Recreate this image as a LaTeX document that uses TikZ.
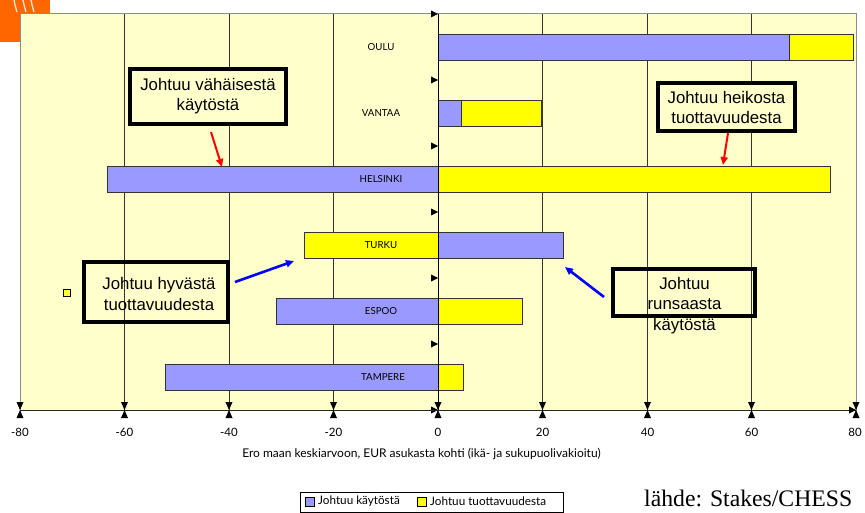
\documentclass[tikz,border=0pt]{standalone}
\usepackage{fontspec}
\setmainfont{Liberation Sans}
\newfontfamily\chartfont{Lato}
\newfontfamily\srcfont{Liberation Serif}
\usetikzlibrary{arrows.meta}
\definecolor{bgyel}{HTML}{FFFFCC}
\definecolor{barblue}{HTML}{9999FF}
\definecolor{baryel}{HTML}{FFFF00}
\definecolor{logoorange}{HTML}{FF6600}
\begin{document}
\begin{tikzpicture}[x=1pt,y=-1pt,
  bar/.style={draw=black!80, line width=0.9pt},
  note/.style={draw=black, line width=3.6pt, inner sep=0pt, align=center,
    font=\fontsize{16.8}{20}\selectfont},
  notetext/.style={inner sep=0pt, align=center, font=\fontsize{16.8}{20.5}\selectfont},
  city/.style={font=\chartfont\fontsize{9.7}{10}\selectfont, inner sep=0pt},
  ticklab/.style={font=\chartfont\fontsize{11.5}{12}\selectfont, inner sep=0pt},
  gridline/.style={draw=black!80, line width=0.8pt},
  redarrow/.style={draw=red, line width=2pt, -{Triangle[length=8pt,width=7pt]}},
  bluearrow/.style={draw=blue, line width=2.6pt, -{Triangle[length=8pt,width=7pt]}},
  legtext/.style={font=\chartfont\fontsize{11.7}{12}\selectfont, inner sep=0pt, anchor=west}
]
\useasboundingbox (0,0) rectangle (865,513);
\fill[white] (0,0) rectangle (865,513);
% logo
\fill[logoorange] (0,0) rectangle (50,42);
\foreach \sx in {14,23,31}{
  \draw[white, line width=1.3pt, opacity=0.85] (\sx,0) .. controls (\sx+1,5) .. (\sx+3,12);
}
% plot area
\filldraw[fill=bgyel, draw=black!45, line width=1pt] (20,14) rectangle (856,410);
\foreach \gx in {124.5,229,333.5,542.5,647.5,751.5}{
  \draw[gridline] (\gx,14) -- (\gx,410);
}
% bars
\begin{scope}[xshift=438pt, x=5.225pt]
  % OULU
  \draw[bar, fill=barblue] (0,34) rectangle (67.2,60);
  \draw[bar, fill=baryel] (67.2,34) rectangle (79.6,60);
  % VANTAA
  \draw[bar, fill=barblue] (0,100) rectangle (4.4,126);
  \draw[bar, fill=baryel] (4.4,100) rectangle (19.8,126);
  % HELSINKI
  \draw[bar, fill=barblue] (-63.3,166) rectangle (0,192);
  \draw[bar, fill=baryel] (0,166) rectangle (75.2,192);
  % TURKU
  \draw[bar, fill=baryel] (-25.5,232) rectangle (0,258);
  \draw[bar, fill=barblue] (0,232) rectangle (24,258);
  % ESPOO
  \draw[bar, fill=barblue] (-31,298) rectangle (0,324);
  \draw[bar, fill=baryel] (0,298) rectangle (16.1,324);
  % TAMPERE
  \draw[bar, fill=barblue] (-52.2,364) rectangle (0,390);
  \draw[bar, fill=baryel] (0,364) rectangle (4.8,390);
\end{scope}
% vertical axis
\draw[black, line width=0.9pt] (438,14) -- (438,410);
\foreach \cy in {14,80,146,212,278,344,410}{
  \fill[black] (431,\cy-3.5) -- (438,\cy) -- (431,\cy+3.5) -- cycle;
}
% horizontal axis
\draw[black!85, line width=1pt] (20,410) -- (856,410);
\foreach \gx in {20,124.5,229,333.5,438,542.5,647.5,751.5,856}{
  \fill[black] (\gx-3.5,402) -- (\gx+3.5,402) -- (\gx,410) -- cycle;
  \fill[black] (\gx-3.5,418) -- (\gx+3.5,418) -- (\gx,410) -- cycle;
}
\fill[black] (849,406.5) -- (856,410) -- (849,413.5) -- cycle;
% city labels
\node[city] (oulu) at (381,47) {OULU};
\node[city] (vantaa) at (381,113) {VANTAA};
\node[city] (helsinki) at (381,179) {HELSINKI};
\node[city] (turku) at (381,245) {TURKU};
\node[city] (espoo) at (381,311) {ESPOO};
\node[city] (tampere) at (383,377) {TAMPERE};
% tick labels
\node[ticklab] (t1) at (20,432) {-80};
\node[ticklab] (t2) at (124.5,432) {-60};
\node[ticklab] (t3) at (229,432) {-40};
\node[ticklab] (t4) at (333.5,432) {-20};
\node[ticklab] (t5) at (438,432) {0};
\node[ticklab] (t6) at (542.5,432) {20};
\node[ticklab] (t7) at (647.5,432) {40};
\node[ticklab] (t8) at (751.5,432) {60};
\node[ticklab] (t9) at (855,432) {80};
\node[font=\chartfont\fontsize{12}{12}\selectfont, inner sep=0pt] (axtitle) at (421.5,454)
  {Ero maan keskiarvoon, EUR asukasta kohti (ikä- ja sukupuolivakioitu)};
% annotation boxes
\node[note, fill=bgyel, minimum width=156pt, minimum height=55pt] (n1) at (208,96.5)
  {Johtuu vähäisestä\\käytöstä};
\node[note, fill=bgyel, minimum width=137pt, minimum height=48pt] (n2) at (726.5,107)
  {Johtuu heikosta\\tuottavuudesta};
\node[note, minimum width=144pt, minimum height=60pt] (n3) at (156,292) {};
\node[notetext] (n3t) at (159,294) {Johtuu hyvästä\\tuottavuudesta};
\node[note, minimum width=142pt, minimum height=47pt] (n4) at (684,292.5) {};
\node[notetext] (n4t) at (684.5,305.5) {Johtuu\\runsaasta\\käytöstä};
% arrows
\coordinate (r1s) at (211,132);
\coordinate (r1e) at (222,167);
\coordinate (r2s) at (728,133);
\coordinate (r2e) at (723,165);
\coordinate (b1s) at (235,282);
\coordinate (b1e) at (294,261);
\coordinate (b2s) at (604,297);
\coordinate (b2e) at (565,267);
\draw[redarrow] (r1s) -- (r1e);
\draw[redarrow] (r2s) -- (r2e);
\draw[bluearrow] (b1s) -- (b1e);
\draw[bluearrow] (b2s) -- (b2e);
% small marker
\node[draw=black, fill=baryel!70!bgyel, line width=0.8pt, minimum size=6.5pt, inner sep=0pt] (mark) at (67,293) {};
% legend
\node[draw=black, line width=0.8pt, minimum width=263pt, minimum height=20pt, inner sep=0pt] (legend) at (431.5,502) {};
\node[draw=black, fill=barblue, line width=0.7pt, minimum size=9pt, inner sep=0pt] (lb) at (310,501.5) {};
\node[legtext] (lbt) at (318,501.5) {Johtuu käytöstä};
\node[draw=black, fill=baryel, line width=0.7pt, minimum size=9pt, inner sep=0pt] (ly) at (421.5,501.5) {};
\node[legtext] (lyt) at (430,501.5) {Johtuu tuottavuudesta};
% source
\node[font=\srcfont\fontsize{23.7}{26}\selectfont, inner sep=0pt, anchor=base west] (src) at (644,506) {lähde: Stakes/CHESS};
\end{tikzpicture}
\end{document}
